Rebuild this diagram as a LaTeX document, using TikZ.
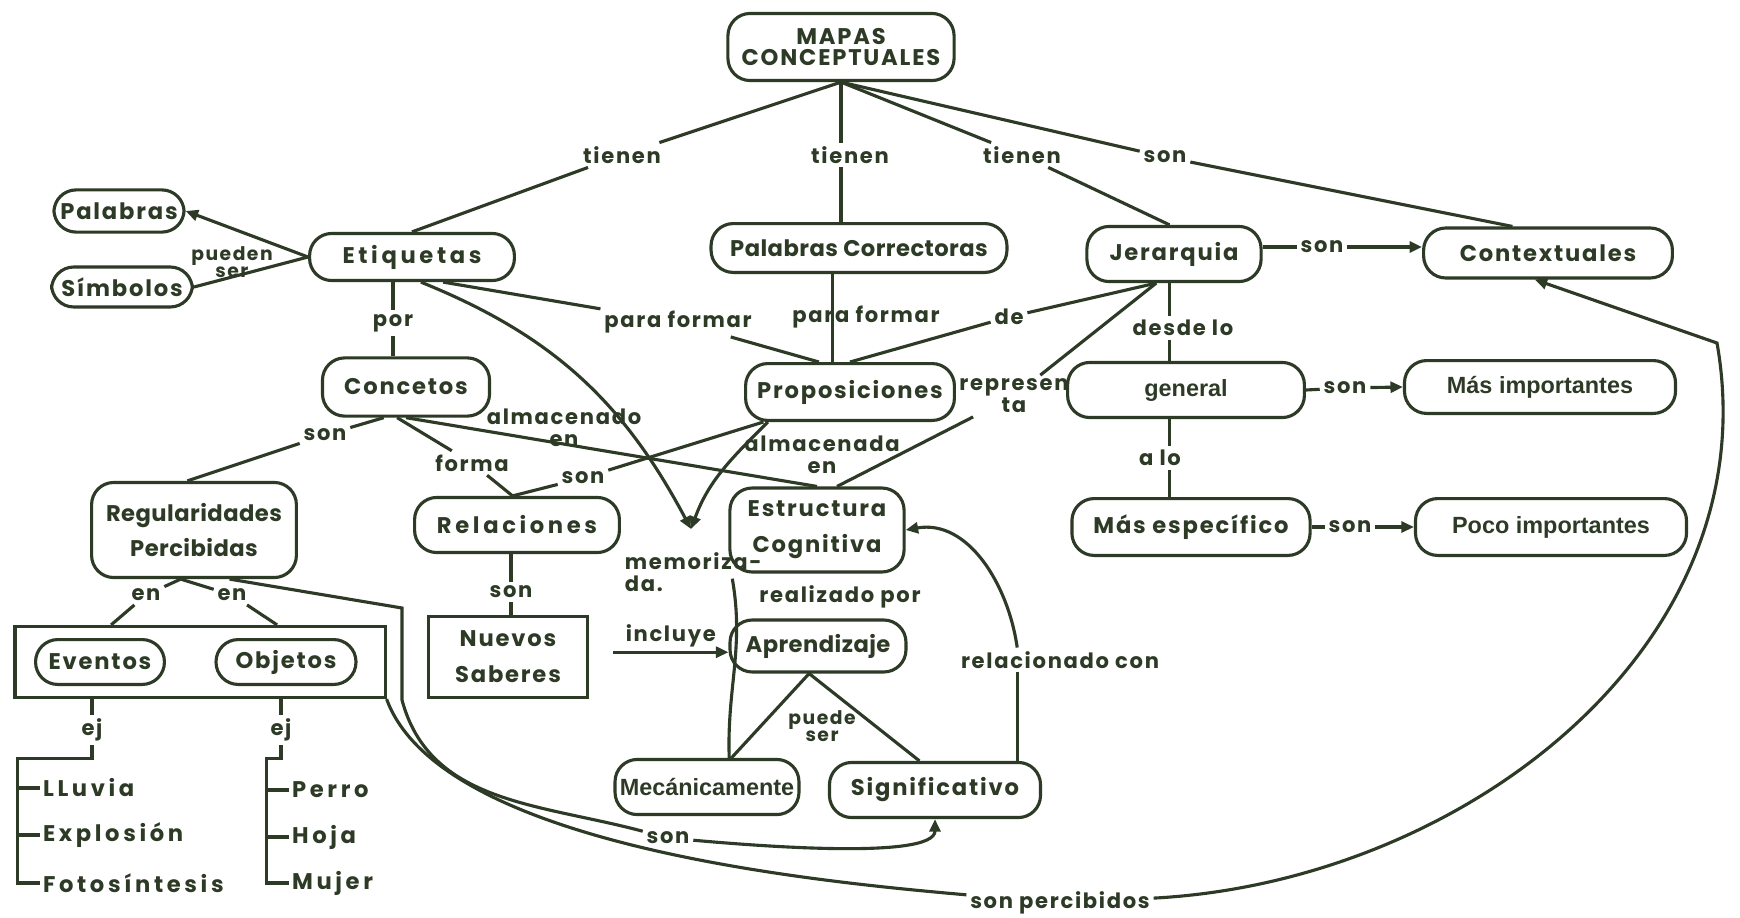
\documentclass[tikz,border=0pt]{standalone}
\usepackage{fontspec}
\usepackage{tikz}
\usetikzlibrary{arrows.meta,positioning}
\newfontfamily\mapafont{Poppins}[LetterSpace=8]
\newfontfamily\anchafont{Poppins}[LetterSpace=16]
\newfontfamily\apretfont{Poppins}[LetterSpace=2]
\newfontfamily\estrechafont{Liberation Sans}
\newcommand{\cajafont}{\mapafont\bfseries\fontsize{14.5}{23}\selectfont}
\newcommand{\cajaanchafont}{\anchafont\bfseries\fontsize{14.5}{23}\selectfont}
\newcommand{\cajaapretfont}{\apretfont\bfseries\fontsize{14.5}{23}\selectfont}
\newcommand{\titfont}{\mapafont\bfseries\fontsize{14.5}{13.5}\selectfont}
\newcommand{\rotfont}{\mapafont\bfseries\fontsize{13.5}{14}\selectfont}
\newcommand{\chicofont}{\mapafont\bfseries\fontsize{12}{10.5}\selectfont}
\newcommand{\listafont}{\anchafont\bfseries\fontsize{14.5}{16}\selectfont}
\newcommand{\llanofont}{\estrechafont\bfseries\fontsize{15}{16}\selectfont}
\definecolor{ink}{RGB}{45,58,38}

\begin{document}
\begin{tikzpicture}[x=0.0225cm, y=0.0225cm, line width=2pt, color=ink,
  >={Triangle[length=8pt,width=7pt]},
  pill/.style={draw, rounded corners=0.5cm, inner sep=0pt, font=\cajafont, align=center},
  llano/.style={draw, rounded corners=0.5cm, inner sep=0pt, font=\llanofont},
  caja/.style={draw, inner sep=0pt, font=\cajafont, align=center},
  rotulo/.style={inner sep=1.5pt, font=\rotfont, align=center},
  lista/.style={inner sep=1pt, font=\listafont, anchor=west}]

\fill[white] (0,0) rectangle (1740,-917);
\useasboundingbox (0,0) rectangle (1740,-917);

\node[pill, font=\titfont, minimum width=5.09cm, minimum height=1.51cm] (mapas) at (841,-47) {MAPAS\\CONCEPTUALES};
\node[pill, minimum width=2.93cm, minimum height=0.95cm] (palab) at (119,-211) {Palabras};
\node[pill, minimum width=3.17cm, minimum height=0.9cm] (simb) at (122,-287) {Símbolos};
\node[pill, font=\cajaanchafont, minimum width=4.61cm, minimum height=1.06cm] (etiq) at (412,-257) {Etiquetas};
\node[pill, font=\cajaapretfont, minimum width=6.66cm, minimum height=1.10cm] (pcorr) at (859,-248) {Palabras Correctoras};
\node[pill, minimum width=4.70cm, minimum height=1.28cm] (prop) at (850,-392) {Proposiciones};
\node[pill, minimum width=3.92cm, minimum height=1.24cm] (jerar) at (1174,-254) {Jerarquia};
\node[pill, minimum width=5.60cm, minimum height=1.125cm] (context) at (1548,-253) {Contextuales};
\node[pill, minimum width=3.76cm, minimum height=1.31cm] (concep) at (406,-387) {Concetos};
\node[llano, minimum width=5.33cm, minimum height=1.24cm] (general) at (1186,-390) {general};
\node[llano, minimum width=6.10cm, minimum height=1.19cm] (masimp) at (1540,-387) {Más importantes};
\node[pill, font=\cajaapretfont, minimum width=4.61cm, minimum height=2.14cm] (regul) at (194,-530) {Regularidades\\Percibidas};
\node[pill, font=\cajaanchafont, minimum width=4.61cm, minimum height=1.24cm] (relac) at (517,-525) {Relaciones};
\node[pill, minimum width=3.92cm, minimum height=1.89cm] (estr) at (817,-530) {Estructura\\Cognitiva};
\node[pill, minimum width=5.36cm, minimum height=1.28cm] (masesp) at (1191,-527) {Más específico};
\node[llano, minimum width=6.10cm, minimum height=1.28cm] (poco) at (1551,-527) {Poco importantes};
\node[caja, minimum width=8.33cm, minimum height=1.60cm] (grupo) at (200,-662) {};
\node[pill, minimum width=2.90cm, minimum height=1.01cm] (eventos) at (100,-662) {Eventos};
\node[pill, minimum width=3.15cm, minimum height=1.01cm] (objetos) at (286,-662) {Objetos};
\node[caja, minimum width=3.56cm, minimum height=1.82cm] (nuevos) at (508,-657) {Nuevos\\Saberes};
\node[pill, font=\cajaapretfont, minimum width=3.96cm, minimum height=1.17cm] (aprend) at (818,-646) {Aprendizaje};
\node[llano, minimum width=4.14cm, minimum height=1.24cm] (mecan) at (707,-787) {Mecánicamente};
\node[pill, minimum width=4.75cm, minimum height=1.24cm] (signif) at (935,-790) {Significativo};

\node[rotulo] (t1) at (622,-155) {tienen};
\node[rotulo] (t2) at (850,-155) {tienen};
\node[rotulo] (t3) at (1022,-155) {tienen};
\node[rotulo] (s1) at (1165,-157) {son};
\node[rotulo, font=\chicofont] (pueden) at (232,-262) {pueden\\ser};
\node[rotulo] (por) at (393,-323) {por};
\node[rotulo] (pfL) at (678,-322) {para formar};
\node[rotulo] (pfC) at (866,-317) {para formar};
\node[rotulo] (de) at (1009,-317) {de};
\node[rotulo] (desde) at (1183,-328) {desde lo};
\node[rotulo] (alo) at (1160,-458) {a lo};
\node[rotulo] (s2) at (1322,-247) {son};
\node[rotulo] (s3) at (325,-435) {son};
\node[rotulo] (almo) at (564,-428) {almacenado\\en};
\node[rotulo] (forma) at (472,-463) {forma};
\node[rotulo] (s4) at (583,-478) {son};
\node[rotulo] (alma) at (822,-455) {almacenada\\en};
\node[rotulo] (repr) at (1014,-396) {represen\\ta};
\node[rotulo] (s5) at (1345,-388) {son};
\node[rotulo] (s6) at (1350,-527) {son};
\node[rotulo] (en1) at (146,-595) {en};
\node[rotulo] (en2) at (232,-595) {en};
\node[rotulo] (s7) at (511,-592) {son};
\node[rotulo] (realiz) at (840,-597) {realizado por};
\node[rotulo, anchor=west, align=left] (memo) at (621,-572) {memoriza-\\da.};
\node[rotulo] (relcon) at (1060,-660) {relacionado con};
\node[rotulo, font=\chicofont] (puede) at (822,-726) {puede\\ser};
\node[rotulo] (ej1) at (92,-730) {ej};
\node[rotulo] (ej2) at (281,-730) {ej};
\node[lista] (lluvia) at (40,-788) {LLuvia};
\node[lista] (explos) at (40,-835) {Explosión};
\node[lista] (fotos) at (40,-883) {Fotosíntesis};
\node[lista] (perro) at (289,-790) {Perro};
\node[lista] (hoja) at (289,-837) {Hoja};
\node[lista] (mujer) at (289,-883) {Mujer};
\node[rotulo] (s8) at (668,-838) {son};
\node[rotulo] (sperc) at (1060,-903) {son percibidos};

\coordinate (mz) at (691,-529);
\coordinate (kink) at (1717,-343);
\coordinate (bendA) at (402,-608);
\coordinate (bendB) at (402,-700);
\coordinate (ejeJ) at ([xshift=-0.1cm]jerar.south);
\coordinate (ejeP) at ([xshift=-0.6cm]pcorr.south);
\coordinate (rc) at ([xshift=1.85cm]signif.north);
\coordinate (inc) at ([yshift=-0.14cm]aprend.west);

\draw (mapas.south) -- (t1);
\draw (t1) -- (etiq.north);
\draw (mapas.south) -- (mapas.south |- t2.north);
\draw (mapas.south |- t2.south) -- (mapas.south |- pcorr.north);
\draw (mapas.south) -- (t3);
\draw (t3) -- ([xshift=-0.1cm]jerar.north);
\draw (mapas.south) -- (s1);
\draw (s1) -- ([xshift=-0.8cm]context.north);

\draw[->] (etiq.west) -- (palab.east);
\draw (etiq.west) -- (simb.east);
\draw (etiq.south -| por) -- (por);
\draw (por) -- (por |- concep.north);
\draw ([xshift=0.7cm]etiq.south) -- (pfL);
\draw (pfL) -- ([xshift=-0.7cm]prop.north);
\draw[->] ([xshift=0.2cm]etiq.south) to[out=-22, in=118] (mz);

\draw (ejeP) -- (ejeP |- prop.north);
\draw (prop.north) -- (de);
\draw (de) -- ([xshift=-0.4cm]jerar.south);
\draw ([xshift=0.45cm]estr.north) -- (repr);
\draw (repr) -- ([xshift=-0.4cm]jerar.south);
\draw[->] ([xshift=-1.85cm]prop.south) to[out=-135, in=70] (mz);
\draw ([xshift=-1.95cm]prop.south) -- (s4);
\draw (s4) -- ([xshift=-0.1cm]relac.north);

\draw (jerar.east |- s2) -- (s2);
\draw[->] (s2) -- (context.west |- s2);
\draw (ejeJ) -- (ejeJ |- desde.north);
\draw (ejeJ |- desde.south) -- (ejeJ |- general.north);
\draw (ejeJ |- general.south) -- (ejeJ |- alo.north);
\draw (ejeJ |- alo.south) -- (ejeJ |- masesp.north);
\draw (general.east) -- (s5);
\draw[->] (s5) -- (masimp.west);
\draw (masesp.east) -- (s6);
\draw[->] (s6) -- (poco.west);

\draw ([xshift=-0.5cm]concep.south) -- (s3);
\draw (s3) -- ([xshift=-0.15cm]regul.north);
\draw ([xshift=-0.2cm]concep.south) -- (forma);
\draw (forma) -- ([xshift=-0.1cm]relac.north);
\draw (concep.south) -- (estr.north);

\draw (s7 |- relac.south) -- (s7);
\draw (s7) -- (s7 |- nuevos.north);
\draw[->] ([xshift=0.55cm]nuevos.east |- inc) -- node[rotulo, above=1pt]{incluye} (inc);
\draw ([xshift=-0.75cm,yshift=-0.15cm]memo.east) to[out=-80, in=92] ([xshift=0.5cm]mecan.north);
\draw ([xshift=-0.2cm]aprend.south) -- ([xshift=0.55cm]mecan.north);
\draw ([xshift=-0.2cm]aprend.south) -- ([xshift=-0.35cm]signif.north);
\draw (rc) -- (rc |- relcon.south);
\draw[->] (rc |- relcon.north) to[out=98, in=10] (estr.east);

\draw ([xshift=-0.3cm]regul.south) -- (en1);
\draw (en1) -- ([xshift=0.25cm]grupo.north -| eventos);
\draw ([xshift=-0.3cm]regul.south) -- (en2);
\draw (en2) -- ([xshift=-0.2cm]grupo.north -| objetos);

\draw (grupo.south -| ej1) -- (ej1.north);
\draw (ej1.south) -- ++(0,-0.3cm) -| ([xshift=-0.5cm]fotos.west) -- (fotos.west);
\draw ([xshift=-0.5cm]lluvia.west) -- (lluvia.west);
\draw ([xshift=-0.5cm]explos.west) -- (explos.west);
\draw (grupo.south -| ej2) -- (ej2.north);
\draw (ej2.south) -- ++(0,-0.3cm) -| ([xshift=-0.5cm]mujer.west) -- (mujer.west);
\draw ([xshift=-0.5cm]perro.west) -- (perro.west);
\draw ([xshift=-0.5cm]hoja.west) -- (hoja.west);

\draw ([xshift=0.8cm]regul.south) -- (bendA) -- (bendB) to[out=-75, in=165] (s8);
\draw[->] (s8) to[out=-5, in=-90, looseness=0.45] (signif.south);
\draw (grupo.south east) to[out=-70, in=175, looseness=0.65] (sperc);
\draw[->] (sperc) to[out=3, in=-80] (kink) -- ([xshift=-0.3cm]context.south);

\end{tikzpicture}
\end{document}
